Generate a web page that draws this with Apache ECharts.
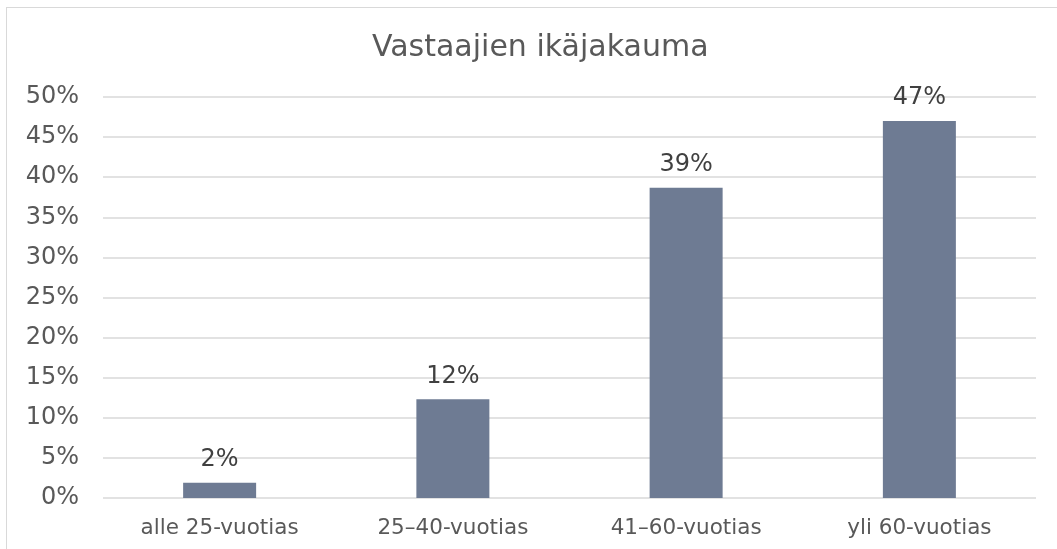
<!DOCTYPE html>
<html>
<head>
<meta charset="utf-8">
<script src="https://cdn.jsdelivr.net/npm/echarts@6/dist/echarts.min.js"></script>
<style>
    html, body { margin: 0; padding: 0; background: #fff; overflow: hidden; }
    #frame { position: absolute; left: 6px; top: 7px; width: 1200px; height: 700px; border: 1px solid #d9d9d9; }
    #chart { position: absolute; left: 0; top: 0; width: 1057px; height: 549px; }
</style>
</head>
<body>
<div id="frame"></div>
<div id="chart"></div>
<script>
    var categories = ['alle 25-vuotias', '25\u201340-vuotias', '41\u201360-vuotias', 'yli 60-vuotias'];
    var values = [1.9, 12.3, 38.7, 47.0];
    var yTicks = [0, 5, 10, 15, 20, 25, 30, 35, 40, 45, 50];

    var font = 'Verdana, "DejaVu Sans", sans-serif';
    var myChart = echarts.init(document.getElementById('chart'));
    myChart.setOption({
        animation: false,
        backgroundColor: 'transparent',
        title: {
            text: 'Vastaajien ikäjakauma',
            left: 367,
            top: 28,
            textStyle: { fontFamily: font, fontSize: 30, fontWeight: 'normal', color: '#595959' }
        },
        grid: { left: 103, right: 21, top: 97, bottom: 51, containLabel: false },
        xAxis: {
            type: 'category',
            data: categories,
            axisLine: { show: false },
            axisTick: { show: false },
            axisLabel: { fontFamily: font, fontSize: 21.5, color: '#595959', margin: 19 }
        },
        yAxis: {
            type: 'value',
            min: yTicks[0],
            max: yTicks[yTicks.length - 1],
            interval: 5,
            axisLine: { show: false },
            axisTick: { show: false },
            splitLine: { lineStyle: { color: '#d9d9d9', width: 1.5 } },
            axisLabel: {
                fontFamily: font, fontSize: 24, color: '#595959', margin: 24,
                formatter: function (v) { return v + '%'; }
            }
        },
        series: [{
            type: 'bar',
            data: values,
            barWidth: 73,
            itemStyle: { color: '#6e7b93' },
            label: {
                show: true,
                position: 'top',
                distance: 11,
                fontFamily: font, fontSize: 24, color: '#404040',
                formatter: function (p) { return Math.round(p.value) + '%'; }
            }
        }]
    });
</script>
</body>
</html>
